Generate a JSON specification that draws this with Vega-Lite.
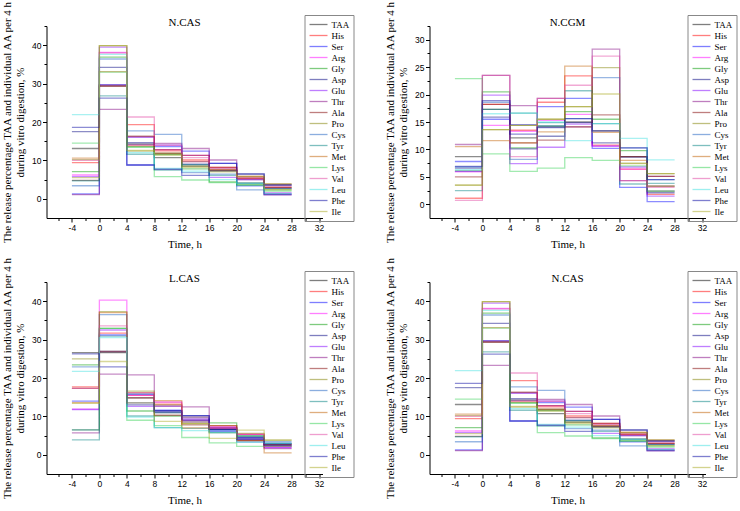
{
"$schema": "https://vega.github.io/schema/vega-lite/v6.json",
"padding": {"left": 1.5, "top": 0, "right": 0, "bottom": 0},
"background": "white",
"config": {
  "view": {"stroke": null},
  "axis": {"grid": false, "domainColor": "#000", "tickColor": "#000", "labelColor": "#000", "titleColor": "#000", "labelFont": "Liberation Sans", "labelFontSize": 8.5, "titleFont": "Liberation Serif", "titleFontSize": 11, "titleFontWeight": "normal", "labelPadding": 1.5, "tickWidth": 1, "domainWidth": 1},
  "title": {"font": "Liberation Serif", "fontSize": 11, "fontWeight": "normal", "color": "#000", "anchor": "middle", "offset": -27.2},
  "legend": {"orient": "none", "legendX": 258, "legendY": -11, "strokeColor": "#888", "padding": 4, "labelFont": "Liberation Serif", "labelFontSize": 9, "labelColor": "#000", "symbolType": "M-1,0L3,0", "symbolSize": 81, "symbolStrokeWidth": 1.3, "symbolOpacity": 0.5, "labelOffset": 12, "rowPadding": 0}
},
"datasets": {
"ncas": [
{"a":"TAA","t":-4,"v":13.1},{"a":"TAA","t":0,"v":29.4},{"a":"TAA","t":4,"v":14.2},{"a":"TAA","t":8,"v":10.7},{"a":"TAA","t":12,"v":8.5},{"a":"TAA","t":16,"v":7.3},{"a":"TAA","t":20,"v":4.1},{"a":"TAA","t":24,"v":2.7},{"a":"TAA","t":28,"v":2.7},
{"a":"His","t":-4,"v":9.4},{"a":"His","t":0,"v":29.6},{"a":"His","t":4,"v":19.3},{"a":"His","t":8,"v":12.5},{"a":"His","t":12,"v":10.1},{"a":"His","t":16,"v":8.2},{"a":"His","t":20,"v":5.3},{"a":"His","t":24,"v":3.0},{"a":"His","t":28,"v":3.0},
{"a":"Ser","t":-4,"v":1.3},{"a":"Ser","t":0,"v":29.7},{"a":"Ser","t":4,"v":8.8},{"a":"Ser","t":8,"v":13.6},{"a":"Ser","t":12,"v":12.4},{"a":"Ser","t":16,"v":9.2},{"a":"Ser","t":20,"v":3.4},{"a":"Ser","t":24,"v":1.1},{"a":"Ser","t":28,"v":1.1},
{"a":"Arg","t":-4,"v":6.2},{"a":"Arg","t":0,"v":38.1},{"a":"Arg","t":4,"v":14.0},{"a":"Arg","t":8,"v":12.8},{"a":"Arg","t":12,"v":11.3},{"a":"Arg","t":16,"v":7.7},{"a":"Arg","t":20,"v":5.7},{"a":"Arg","t":24,"v":1.6},{"a":"Arg","t":28,"v":1.6},
{"a":"Gly","t":-4,"v":7.1},{"a":"Gly","t":0,"v":36.9},{"a":"Gly","t":4,"v":13.6},{"a":"Gly","t":8,"v":11.5},{"a":"Gly","t":12,"v":7.8},{"a":"Gly","t":16,"v":4.4},{"a":"Gly","t":20,"v":3.7},{"a":"Gly","t":24,"v":2.3},{"a":"Gly","t":28,"v":2.3},
{"a":"Asp","t":-4,"v":17.5},{"a":"Asp","t":0,"v":34.2},{"a":"Asp","t":4,"v":14.6},{"a":"Asp","t":8,"v":11.8},{"a":"Asp","t":12,"v":9.0},{"a":"Asp","t":16,"v":7.3},{"a":"Asp","t":20,"v":6.4},{"a":"Asp","t":24,"v":3.6},{"a":"Asp","t":28,"v":3.6},
{"a":"Glu","t":-4,"v":5.8},{"a":"Glu","t":0,"v":39.5},{"a":"Glu","t":4,"v":16.0},{"a":"Glu","t":8,"v":14.0},{"a":"Glu","t":12,"v":9.7},{"a":"Glu","t":16,"v":5.6},{"a":"Glu","t":20,"v":5.0},{"a":"Glu","t":24,"v":1.3},{"a":"Glu","t":28,"v":1.3},
{"a":"Thr","t":-4,"v":1.1},{"a":"Thr","t":0,"v":23.3},{"a":"Thr","t":4,"v":16.2},{"a":"Thr","t":8,"v":14.4},{"a":"Thr","t":12,"v":13.1},{"a":"Thr","t":16,"v":10.1},{"a":"Thr","t":20,"v":5.0},{"a":"Thr","t":24,"v":1.0},{"a":"Thr","t":28,"v":1.0},
{"a":"Ala","t":-4,"v":4.8},{"a":"Ala","t":0,"v":29.3},{"a":"Ala","t":4,"v":16.3},{"a":"Ala","t":8,"v":12.8},{"a":"Ala","t":12,"v":11.3},{"a":"Ala","t":16,"v":8.2},{"a":"Ala","t":20,"v":5.3},{"a":"Ala","t":24,"v":3.0},{"a":"Ala","t":28,"v":3.0},
{"a":"Pro","t":-4,"v":10.2},{"a":"Pro","t":0,"v":39.9},{"a":"Pro","t":4,"v":12.4},{"a":"Pro","t":8,"v":11.8},{"a":"Pro","t":12,"v":8.5},{"a":"Pro","t":16,"v":7.7},{"a":"Pro","t":20,"v":5.7},{"a":"Pro","t":24,"v":3.9},{"a":"Pro","t":28,"v":3.9},
{"a":"Cys","t":-4,"v":3.4},{"a":"Cys","t":0,"v":36.4},{"a":"Cys","t":4,"v":17.7},{"a":"Cys","t":8,"v":16.8},{"a":"Cys","t":12,"v":6.8},{"a":"Cys","t":16,"v":6.4},{"a":"Cys","t":20,"v":2.3},{"a":"Cys","t":24,"v":2.7},{"a":"Cys","t":28,"v":2.7},
{"a":"Tyr","t":-4,"v":4.7},{"a":"Tyr","t":0,"v":26.8},{"a":"Tyr","t":4,"v":11.6},{"a":"Tyr","t":8,"v":7.5},{"a":"Tyr","t":12,"v":8.9},{"a":"Tyr","t":16,"v":6.1},{"a":"Tyr","t":20,"v":4.1},{"a":"Tyr","t":24,"v":1.3},{"a":"Tyr","t":28,"v":1.3},
{"a":"Met","t":-4,"v":10.6},{"a":"Met","t":0,"v":33.1},{"a":"Met","t":4,"v":13.8},{"a":"Met","t":8,"v":11.9},{"a":"Met","t":12,"v":9.7},{"a":"Met","t":16,"v":7.5},{"a":"Met","t":20,"v":5.9},{"a":"Met","t":24,"v":3.8},{"a":"Met","t":28,"v":3.8},
{"a":"Lys","t":-4,"v":14.5},{"a":"Lys","t":0,"v":33.0},{"a":"Lys","t":4,"v":13.4},{"a":"Lys","t":8,"v":5.8},{"a":"Lys","t":12,"v":4.9},{"a":"Lys","t":16,"v":4.2},{"a":"Lys","t":20,"v":3.5},{"a":"Lys","t":24,"v":2.0},{"a":"Lys","t":28,"v":2.0},
{"a":"Val","t":-4,"v":10.0},{"a":"Val","t":0,"v":38.0},{"a":"Val","t":4,"v":21.3},{"a":"Val","t":8,"v":13.9},{"a":"Val","t":12,"v":10.7},{"a":"Val","t":16,"v":8.0},{"a":"Val","t":20,"v":5.4},{"a":"Val","t":24,"v":3.3},{"a":"Val","t":28,"v":3.3},
{"a":"Leu","t":-4,"v":21.9},{"a":"Leu","t":0,"v":37.6},{"a":"Leu","t":4,"v":12.0},{"a":"Leu","t":8,"v":7.9},{"a":"Leu","t":12,"v":7.2},{"a":"Leu","t":16,"v":5.0},{"a":"Leu","t":20,"v":4.0},{"a":"Leu","t":24,"v":1.5},{"a":"Leu","t":28,"v":1.5},
{"a":"Phe","t":-4,"v":18.6},{"a":"Phe","t":0,"v":26.2},{"a":"Phe","t":4,"v":8.8},{"a":"Phe","t":8,"v":7.7},{"a":"Phe","t":12,"v":6.1},{"a":"Phe","t":16,"v":9.2},{"a":"Phe","t":20,"v":6.5},{"a":"Phe","t":24,"v":3.6},{"a":"Phe","t":28,"v":3.6},
{"a":"Ile","t":-4,"v":5.5},{"a":"Ile","t":0,"v":39.9},{"a":"Ile","t":4,"v":12.6},{"a":"Ile","t":8,"v":11.4},{"a":"Ile","t":12,"v":8.2},{"a":"Ile","t":16,"v":7.0},{"a":"Ile","t":20,"v":5.8},{"a":"Ile","t":24,"v":2.4},{"a":"Ile","t":28,"v":2.4}
],
"ncgm": [
{"a":"TAA","t":-4,"v":8.7},{"a":"TAA","t":0,"v":17.3},{"a":"TAA","t":4,"v":12.1},{"a":"TAA","t":8,"v":14.1},{"a":"TAA","t":12,"v":15.0},{"a":"TAA","t":16,"v":13.4},{"a":"TAA","t":20,"v":8.7},{"a":"TAA","t":24,"v":3.3},{"a":"TAA","t":28,"v":3.3},
{"a":"His","t":-4,"v":1.1},{"a":"His","t":0,"v":18.2},{"a":"His","t":4,"v":13.5},{"a":"His","t":8,"v":18.6},{"a":"His","t":12,"v":23.4},{"a":"His","t":16,"v":10.8},{"a":"His","t":20,"v":6.4},{"a":"His","t":24,"v":1.8},{"a":"His","t":28,"v":1.8},
{"a":"Ser","t":-4,"v":7.8},{"a":"Ser","t":0,"v":15.5},{"a":"Ser","t":4,"v":14.5},{"a":"Ser","t":8,"v":17.8},{"a":"Ser","t":12,"v":19.3},{"a":"Ser","t":16,"v":10.2},{"a":"Ser","t":20,"v":3.1},{"a":"Ser","t":24,"v":0.5},{"a":"Ser","t":28,"v":0.5},
{"a":"Arg","t":-4,"v":5.9},{"a":"Arg","t":0,"v":14.4},{"a":"Arg","t":4,"v":13.3},{"a":"Arg","t":8,"v":15.3},{"a":"Arg","t":12,"v":16.4},{"a":"Arg","t":16,"v":10.6},{"a":"Arg","t":20,"v":6.4},{"a":"Arg","t":24,"v":2.4},{"a":"Arg","t":28,"v":2.4},
{"a":"Gly","t":-4,"v":6.1},{"a":"Gly","t":0,"v":20.5},{"a":"Gly","t":4,"v":10.3},{"a":"Gly","t":8,"v":14.3},{"a":"Gly","t":12,"v":16.9},{"a":"Gly","t":16,"v":15.5},{"a":"Gly","t":20,"v":9.8},{"a":"Gly","t":24,"v":2.4},{"a":"Gly","t":28,"v":2.4},
{"a":"Asp","t":-4,"v":6.6},{"a":"Asp","t":0,"v":15.9},{"a":"Asp","t":4,"v":10.1},{"a":"Asp","t":8,"v":12.4},{"a":"Asp","t":12,"v":14.9},{"a":"Asp","t":16,"v":11.2},{"a":"Asp","t":20,"v":8.6},{"a":"Asp","t":24,"v":2.1},{"a":"Asp","t":28,"v":2.1},
{"a":"Glu","t":-4,"v":6.0},{"a":"Glu","t":0,"v":19.9},{"a":"Glu","t":4,"v":7.4},{"a":"Glu","t":8,"v":10.4},{"a":"Glu","t":12,"v":14.6},{"a":"Glu","t":16,"v":10.6},{"a":"Glu","t":20,"v":6.8},{"a":"Glu","t":24,"v":1.5},{"a":"Glu","t":28,"v":1.5},
{"a":"Thr","t":-4,"v":10.9},{"a":"Thr","t":0,"v":23.5},{"a":"Thr","t":4,"v":18.0},{"a":"Thr","t":8,"v":19.3},{"a":"Thr","t":12,"v":14.1},{"a":"Thr","t":16,"v":28.3},{"a":"Thr","t":20,"v":4.3},{"a":"Thr","t":24,"v":5.1},{"a":"Thr","t":28,"v":5.1},
{"a":"Ala","t":-4,"v":5.0},{"a":"Ala","t":0,"v":18.2},{"a":"Ala","t":4,"v":11.2},{"a":"Ala","t":8,"v":11.7},{"a":"Ala","t":12,"v":14.1},{"a":"Ala","t":16,"v":16.3},{"a":"Ala","t":20,"v":8.7},{"a":"Ala","t":24,"v":5.1},{"a":"Ala","t":28,"v":5.1},
{"a":"Pro","t":-4,"v":3.5},{"a":"Pro","t":0,"v":13.6},{"a":"Pro","t":4,"v":14.4},{"a":"Pro","t":8,"v":15.5},{"a":"Pro","t":12,"v":17.8},{"a":"Pro","t":16,"v":24.9},{"a":"Pro","t":20,"v":7.5},{"a":"Pro","t":24,"v":5.6},{"a":"Pro","t":28,"v":5.6},
{"a":"Cys","t":-4,"v":6.8},{"a":"Cys","t":0,"v":18.6},{"a":"Cys","t":4,"v":8.2},{"a":"Cys","t":8,"v":14.3},{"a":"Cys","t":12,"v":15.6},{"a":"Cys","t":16,"v":23.1},{"a":"Cys","t":20,"v":10.3},{"a":"Cys","t":24,"v":4.5},{"a":"Cys","t":28,"v":4.5},
{"a":"Tyr","t":-4,"v":2.5},{"a":"Tyr","t":0,"v":17.3},{"a":"Tyr","t":4,"v":16.6},{"a":"Tyr","t":8,"v":14.9},{"a":"Tyr","t":12,"v":20.7},{"a":"Tyr","t":16,"v":14.7},{"a":"Tyr","t":20,"v":3.7},{"a":"Tyr","t":24,"v":3.8},{"a":"Tyr","t":28,"v":3.8},
{"a":"Met","t":-4,"v":10.5},{"a":"Met","t":0,"v":11.6},{"a":"Met","t":4,"v":11.2},{"a":"Met","t":8,"v":13.2},{"a":"Met","t":12,"v":25.2},{"a":"Met","t":16,"v":13.1},{"a":"Met","t":20,"v":8.0},{"a":"Met","t":24,"v":3.3},{"a":"Met","t":28,"v":3.3},
{"a":"Lys","t":-4,"v":22.9},{"a":"Lys","t":0,"v":9.2},{"a":"Lys","t":4,"v":6.0},{"a":"Lys","t":8,"v":6.6},{"a":"Lys","t":12,"v":8.5},{"a":"Lys","t":16,"v":8.0},{"a":"Lys","t":20,"v":7.0},{"a":"Lys","t":24,"v":2.4},{"a":"Lys","t":28,"v":2.4},
{"a":"Val","t":-4,"v":0.7},{"a":"Val","t":0,"v":23.5},{"a":"Val","t":4,"v":8.7},{"a":"Val","t":8,"v":19.3},{"a":"Val","t":12,"v":21.7},{"a":"Val","t":16,"v":27.0},{"a":"Val","t":20,"v":4.3},{"a":"Val","t":24,"v":3.1},{"a":"Val","t":28,"v":3.1},
{"a":"Leu","t":-4,"v":6.3},{"a":"Leu","t":0,"v":16.5},{"a":"Leu","t":4,"v":16.6},{"a":"Leu","t":8,"v":15.0},{"a":"Leu","t":12,"v":11.6},{"a":"Leu","t":16,"v":14.7},{"a":"Leu","t":20,"v":12.0},{"a":"Leu","t":24,"v":8.1},{"a":"Leu","t":28,"v":8.1},
{"a":"Phe","t":-4,"v":6.9},{"a":"Phe","t":0,"v":18.9},{"a":"Phe","t":4,"v":12.8},{"a":"Phe","t":8,"v":14.0},{"a":"Phe","t":12,"v":15.6},{"a":"Phe","t":16,"v":13.4},{"a":"Phe","t":20,"v":10.3},{"a":"Phe","t":24,"v":4.5},{"a":"Phe","t":28,"v":4.5},
{"a":"Ile","t":-4,"v":3.5},{"a":"Ile","t":0,"v":13.6},{"a":"Ile","t":4,"v":14.4},{"a":"Ile","t":8,"v":15.5},{"a":"Ile","t":12,"v":17.8},{"a":"Ile","t":16,"v":20.1},{"a":"Ile","t":20,"v":7.4},{"a":"Ile","t":24,"v":5.6},{"a":"Ile","t":28,"v":5.6}
],
"lcas": [
{"a":"TAA","t":-4,"v":26.6},{"a":"TAA","t":0,"v":26.6},{"a":"TAA","t":4,"v":14.8},{"a":"TAA","t":8,"v":11.0},{"a":"TAA","t":12,"v":8.9},{"a":"TAA","t":16,"v":6.6},{"a":"TAA","t":20,"v":4.1},{"a":"TAA","t":24,"v":2.8},{"a":"TAA","t":28,"v":2.8},
{"a":"His","t":-4,"v":17.7},{"a":"His","t":0,"v":31.7},{"a":"His","t":4,"v":15.5},{"a":"His","t":8,"v":13.2},{"a":"His","t":12,"v":9.8},{"a":"His","t":16,"v":7.1},{"a":"His","t":20,"v":5.3},{"a":"His","t":24,"v":2.5},{"a":"His","t":28,"v":2.5},
{"a":"Ser","t":-4,"v":14.0},{"a":"Ser","t":0,"v":31.2},{"a":"Ser","t":4,"v":15.8},{"a":"Ser","t":8,"v":11.6},{"a":"Ser","t":12,"v":10.2},{"a":"Ser","t":16,"v":6.2},{"a":"Ser","t":20,"v":4.5},{"a":"Ser","t":24,"v":3.0},{"a":"Ser","t":28,"v":3.0},
{"a":"Arg","t":-4,"v":11.9},{"a":"Arg","t":0,"v":40.3},{"a":"Arg","t":4,"v":15.5},{"a":"Arg","t":8,"v":13.7},{"a":"Arg","t":12,"v":9.3},{"a":"Arg","t":16,"v":7.4},{"a":"Arg","t":20,"v":5.3},{"a":"Arg","t":24,"v":1.9},{"a":"Arg","t":28,"v":1.9},
{"a":"Gly","t":-4,"v":23.4},{"a":"Gly","t":0,"v":32.9},{"a":"Gly","t":4,"v":11.4},{"a":"Gly","t":8,"v":10.1},{"a":"Gly","t":12,"v":8.5},{"a":"Gly","t":16,"v":8.3},{"a":"Gly","t":20,"v":4.9},{"a":"Gly","t":24,"v":2.2},{"a":"Gly","t":28,"v":2.2},
{"a":"Asp","t":-4,"v":6.5},{"a":"Asp","t":0,"v":26.9},{"a":"Asp","t":4,"v":13.0},{"a":"Asp","t":8,"v":11.4},{"a":"Asp","t":12,"v":10.2},{"a":"Asp","t":16,"v":6.6},{"a":"Asp","t":20,"v":4.5},{"a":"Asp","t":24,"v":2.5},{"a":"Asp","t":28,"v":2.5},
{"a":"Glu","t":-4,"v":11.8},{"a":"Glu","t":0,"v":32.5},{"a":"Glu","t":4,"v":12.6},{"a":"Glu","t":8,"v":12.7},{"a":"Glu","t":12,"v":8.9},{"a":"Glu","t":16,"v":7.1},{"a":"Glu","t":20,"v":4.1},{"a":"Glu","t":24,"v":1.9},{"a":"Glu","t":28,"v":1.9},
{"a":"Thr","t":-4,"v":5.7},{"a":"Thr","t":0,"v":21.0},{"a":"Thr","t":4,"v":20.8},{"a":"Thr","t":8,"v":12.7},{"a":"Thr","t":12,"v":12.5},{"a":"Thr","t":16,"v":6.9},{"a":"Thr","t":20,"v":3.7},{"a":"Thr","t":24,"v":1.6},{"a":"Thr","t":28,"v":1.6},
{"a":"Ala","t":-4,"v":17.3},{"a":"Ala","t":0,"v":26.9},{"a":"Ala","t":4,"v":14.8},{"a":"Ala","t":8,"v":10.3},{"a":"Ala","t":12,"v":7.8},{"a":"Ala","t":16,"v":7.6},{"a":"Ala","t":20,"v":3.7},{"a":"Ala","t":24,"v":2.8},{"a":"Ala","t":28,"v":2.8},
{"a":"Pro","t":-4,"v":25.0},{"a":"Pro","t":0,"v":37.3},{"a":"Pro","t":4,"v":16.6},{"a":"Pro","t":8,"v":13.0},{"a":"Pro","t":12,"v":8.1},{"a":"Pro","t":16,"v":5.8},{"a":"Pro","t":20,"v":5.6},{"a":"Pro","t":24,"v":3.8},{"a":"Pro","t":28,"v":3.8},
{"a":"Cys","t":-4,"v":22.9},{"a":"Cys","t":0,"v":36.5},{"a":"Cys","t":4,"v":15.8},{"a":"Cys","t":8,"v":11.0},{"a":"Cys","t":12,"v":9.8},{"a":"Cys","t":16,"v":6.2},{"a":"Cys","t":20,"v":3.3},{"a":"Cys","t":24,"v":3.4},{"a":"Cys","t":28,"v":3.4},
{"a":"Tyr","t":-4,"v":3.9},{"a":"Tyr","t":0,"v":30.9},{"a":"Tyr","t":4,"v":10.1},{"a":"Tyr","t":8,"v":7.1},{"a":"Tyr","t":12,"v":6.9},{"a":"Tyr","t":16,"v":5.8},{"a":"Tyr","t":20,"v":4.9},{"a":"Tyr","t":24,"v":3.0},{"a":"Tyr","t":28,"v":3.0},
{"a":"Met","t":-4,"v":13.6},{"a":"Met","t":0,"v":37.0},{"a":"Met","t":4,"v":16.2},{"a":"Met","t":8,"v":14.1},{"a":"Met","t":12,"v":7.0},{"a":"Met","t":16,"v":7.6},{"a":"Met","t":20,"v":3.7},{"a":"Met","t":24,"v":0.5},{"a":"Met","t":28,"v":0.5},
{"a":"Lys","t":-4,"v":6.5},{"a":"Lys","t":0,"v":32.9},{"a":"Lys","t":4,"v":9.0},{"a":"Lys","t":8,"v":7.6},{"a":"Lys","t":12,"v":4.5},{"a":"Lys","t":16,"v":3.1},{"a":"Lys","t":20,"v":2.2},{"a":"Lys","t":24,"v":2.2},{"a":"Lys","t":28,"v":2.2},
{"a":"Val","t":-4,"v":17.3},{"a":"Val","t":0,"v":33.6},{"a":"Val","t":4,"v":16.2},{"a":"Val","t":8,"v":13.7},{"a":"Val","t":12,"v":8.5},{"a":"Val","t":16,"v":6.9},{"a":"Val","t":20,"v":5.3},{"a":"Val","t":24,"v":2.2},{"a":"Val","t":28,"v":2.2},
{"a":"Leu","t":-4,"v":21.7},{"a":"Leu","t":0,"v":30.5},{"a":"Leu","t":4,"v":9.8},{"a":"Leu","t":8,"v":7.1},{"a":"Leu","t":12,"v":6.3},{"a":"Leu","t":16,"v":5.8},{"a":"Leu","t":20,"v":3.3},{"a":"Leu","t":24,"v":3.0},{"a":"Leu","t":28,"v":3.0},
{"a":"Phe","t":-4,"v":26.3},{"a":"Phe","t":0,"v":22.9},{"a":"Phe","t":4,"v":13.5},{"a":"Phe","t":8,"v":11.4},{"a":"Phe","t":12,"v":9.3},{"a":"Phe","t":16,"v":6.6},{"a":"Phe","t":20,"v":4.1},{"a":"Phe","t":24,"v":2.5},{"a":"Phe","t":28,"v":2.5},
{"a":"Ile","t":-4,"v":13.4},{"a":"Ile","t":0,"v":24.3},{"a":"Ile","t":4,"v":13.5},{"a":"Ile","t":8,"v":8.7},{"a":"Ile","t":12,"v":8.1},{"a":"Ile","t":16,"v":4.3},{"a":"Ile","t":20,"v":6.4},{"a":"Ile","t":24,"v":3.8},{"a":"Ile","t":28,"v":3.8}
]
},
"columns": 2,
"spacing": {"column": 107, "row": 64},
"bounds": "flush",
"resolve": {"legend": {"color": "independent"}},
"concat": [
{
 "title": {"text": "N.CAS", "fontWeight": "normal"}, "width": 276, "height": 192,
 "data": {"name": "ncas"},
 "mark": {"type": "line", "interpolate": "step-after", "strokeWidth": 1.3, "opacity": 0.45},
 "encoding": {
  "x": {"field": "t", "type": "quantitative", "scale": {"domain": [-7.7, 32.5], "nice": false, "zero": false},
        "axis": {"title": "Time, h", "titleFontWeight": "normal", "values": [-6,-4,-2,0,2,4,6,8,10,12,14,16,18,20,22,24,26,28,30,32], "labelExpr": "datum.value % 4 == 0 ? '' + datum.value : ''", "tickSize": {"condition": {"test": "datum.value % 4 != 0", "value": 2.5}, "value": 4}, "titlePadding": 6}},
  "y": {"field": "v", "type": "quantitative", "scale": {"domain": [-5, 45], "nice": false, "zero": false},
        "axis": {"title": ["The release percentage TAA and individual AA per 4 h", "during vitro digestion, %"], "titleFontWeight": "normal", "titleLineHeight": 13, "values": [0,5,10,15,20,25,30,35,40,45], "labelExpr": "datum.value % 10 == 0 ? '' + datum.value : ''", "tickSize": {"condition": {"test": "datum.value % 10 != 0", "value": 2.5}, "value": 4}, "titlePadding": 6}},
  "color": {"field": "a", "type": "nominal", "legend": {"title": null},
   "scale": {"domain": ["TAA","His","Ser","Arg","Gly","Asp","Glu","Thr","Ala","Pro","Cys","Tyr","Met","Lys","Val","Leu","Phe","Ile"],
             "range": ["#000000","#ff0000","#0000ff","#ff00ff","#009900","#000080","#8000ff","#800080","#800000","#808000","#1a60c0","#008080","#c06000","#30d050","#e040a0","#40e0e0","#0000a0","#a8a820"]}}
 }
},
{
 "title": {"text": "N.CGM", "fontWeight": "normal"}, "width": 276, "height": 192,
 "data": {"name": "ncgm"},
 "mark": {"type": "line", "interpolate": "step-after", "strokeWidth": 1.3, "opacity": 0.45},
 "encoding": {
  "x": {"field": "t", "type": "quantitative", "scale": {"domain": [-7.7, 32.5], "nice": false, "zero": false},
        "axis": {"title": "Time, h", "titleFontWeight": "normal", "values": [-6,-4,-2,0,2,4,6,8,10,12,14,16,18,20,22,24,26,28,30,32], "labelExpr": "datum.value % 4 == 0 ? '' + datum.value : ''", "tickSize": {"condition": {"test": "datum.value % 4 != 0", "value": 2.5}, "value": 4}, "titlePadding": 6}},
  "y": {"field": "v", "type": "quantitative", "scale": {"domain": [-2.5, 32.5], "nice": false, "zero": false},
        "axis": {"title": ["The release percentage TAA and individual AA per 4 h", "during vitro digestion, %"], "titleFontWeight": "normal", "titleLineHeight": 13, "values": [0,2.5,5,7.5,10,12.5,15,17.5,20,22.5,25,27.5,30,32.5], "labelExpr": "datum.value % 5 == 0 ? '' + datum.value : ''", "tickSize": {"condition": {"test": "datum.value % 5 != 0", "value": 2.5}, "value": 4}, "titlePadding": 6}},
  "color": {"field": "a", "type": "nominal", "legend": {"title": null},
   "scale": {"domain": ["TAA","His","Ser","Arg","Gly","Asp","Glu","Thr","Ala","Pro","Cys","Tyr","Met","Lys","Val","Leu","Phe","Ile"],
             "range": ["#000000","#ff0000","#0000ff","#ff00ff","#009900","#000080","#8000ff","#800080","#800000","#808000","#1a60c0","#008080","#c06000","#30d050","#e040a0","#40e0e0","#0000a0","#a8a820"]}}
 }
},
{
 "title": {"text": "L.CAS", "fontWeight": "normal"}, "width": 276, "height": 192,
 "data": {"name": "lcas"},
 "mark": {"type": "line", "interpolate": "step-after", "strokeWidth": 1.3, "opacity": 0.45},
 "encoding": {
  "x": {"field": "t", "type": "quantitative", "scale": {"domain": [-7.7, 32.5], "nice": false, "zero": false},
        "axis": {"title": "Time, h", "titleFontWeight": "normal", "values": [-6,-4,-2,0,2,4,6,8,10,12,14,16,18,20,22,24,26,28,30,32], "labelExpr": "datum.value % 4 == 0 ? '' + datum.value : ''", "tickSize": {"condition": {"test": "datum.value % 4 != 0", "value": 2.5}, "value": 4}, "titlePadding": 6}},
  "y": {"field": "v", "type": "quantitative", "scale": {"domain": [-5, 45], "nice": false, "zero": false},
        "axis": {"title": ["The release percentage TAA and individual AA per 4 h", "during vitro digestion, %"], "titleFontWeight": "normal", "titleLineHeight": 13, "values": [0,5,10,15,20,25,30,35,40,45], "labelExpr": "datum.value % 10 == 0 ? '' + datum.value : ''", "tickSize": {"condition": {"test": "datum.value % 10 != 0", "value": 2.5}, "value": 4}, "titlePadding": 6}},
  "color": {"field": "a", "type": "nominal", "legend": {"title": null},
   "scale": {"domain": ["TAA","His","Ser","Arg","Gly","Asp","Glu","Thr","Ala","Pro","Cys","Tyr","Met","Lys","Val","Leu","Phe","Ile"],
             "range": ["#000000","#ff0000","#0000ff","#ff00ff","#009900","#000080","#8000ff","#800080","#800000","#808000","#1a60c0","#008080","#c06000","#30d050","#e040a0","#40e0e0","#0000a0","#a8a820"]}}
 }
},
{
 "title": {"text": "N.CAS", "fontWeight": "normal"}, "width": 276, "height": 192,
 "data": {"name": "ncas"},
 "mark": {"type": "line", "interpolate": "step-after", "strokeWidth": 1.3, "opacity": 0.45},
 "encoding": {
  "x": {"field": "t", "type": "quantitative", "scale": {"domain": [-7.7, 32.5], "nice": false, "zero": false},
        "axis": {"title": "Time, h", "titleFontWeight": "normal", "values": [-6,-4,-2,0,2,4,6,8,10,12,14,16,18,20,22,24,26,28,30,32], "labelExpr": "datum.value % 4 == 0 ? '' + datum.value : ''", "tickSize": {"condition": {"test": "datum.value % 4 != 0", "value": 2.5}, "value": 4}, "titlePadding": 6}},
  "y": {"field": "v", "type": "quantitative", "scale": {"domain": [-5, 45], "nice": false, "zero": false},
        "axis": {"title": ["The release percentage TAA and individual AA per 4 h", "during vitro digestion, %"], "titleFontWeight": "normal", "titleLineHeight": 13, "values": [0,5,10,15,20,25,30,35,40,45], "labelExpr": "datum.value % 10 == 0 ? '' + datum.value : ''", "tickSize": {"condition": {"test": "datum.value % 10 != 0", "value": 2.5}, "value": 4}, "titlePadding": 6}},
  "color": {"field": "a", "type": "nominal", "legend": {"title": null},
   "scale": {"domain": ["TAA","His","Ser","Arg","Gly","Asp","Glu","Thr","Ala","Pro","Cys","Tyr","Met","Lys","Val","Leu","Phe","Ile"],
             "range": ["#000000","#ff0000","#0000ff","#ff00ff","#009900","#000080","#8000ff","#800080","#800000","#808000","#1a60c0","#008080","#c06000","#30d050","#e040a0","#40e0e0","#0000a0","#a8a820"]}}
 }
}
]
}
